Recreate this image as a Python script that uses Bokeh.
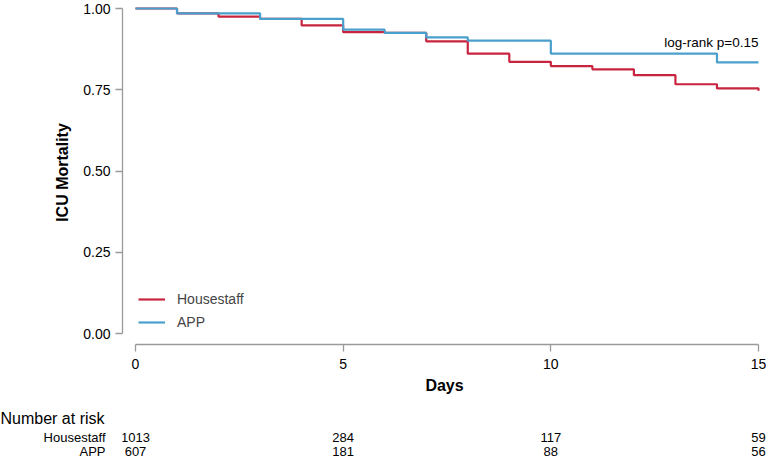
from bokeh.plotting import figure
from bokeh.models import Range1d, FixedTicker, Legend, LegendItem, Title
from bokeh.layouts import column
from bokeh.embed import file_html
from bokeh.resources import INLINE
from bokeh.core.properties import value

# ---- data ----
days_hs = [0, 1, 2, 3, 4, 5, 6, 7, 8, 9, 10, 11, 12, 13, 14, 15]
surv_hs = [1.000, 0.985, 0.975, 0.968, 0.948, 0.927, 0.925, 0.899, 0.861, 0.836, 0.823, 0.813, 0.795, 0.767, 0.754, 0.747]
days_app = [0, 1, 2, 3, 4, 5, 6, 7, 8, 9, 10, 11, 12, 13, 14, 15]
surv_app = [1.000, 0.985, 0.985, 0.968, 0.968, 0.935, 0.925, 0.911, 0.901, 0.901, 0.861, 0.861, 0.861, 0.861, 0.834, 0.834]
groups = ["Housestaff", "APP"]
colors = ["#C9243F", "#4A9FCC"]
x_ticks = [0, 5, 10, 15]
y_ticks = [0, 0.25, 0.5, 0.75, 1.0]
risk_times = [0, 5, 10, 15]
risk_hs = [1013, 284, 117, 59]
risk_app = [607, 181, 88, 56]
pval_text = "log-rank p=0.15"

FONT = "Liberation Sans"
AX = "#9a9a9a"
W = 766
H_MAIN, H_RISK = 401, 57
FL, FB = 122, 344          # frame left / bottom (canvas px)
Y1, Y0 = 8, 333            # canvas y of 1.0 and 0.0
PXD = (758 - 135) / 15.0   # px per day
PXY = Y0 - Y1              # px per unit of y

x_range = Range1d(-(135 - FL) / PXD, 15 + (W - 758) / PXD)
y_range = Range1d(-(FB - Y0) / PXY, 1 + Y1 / PXY)

p = figure(width=W, height=H_MAIN, output_backend="svg", toolbar_location=None,
           x_range=x_range, y_range=y_range,
           min_border_left=FL, min_border_right=0, min_border_top=0,
           min_border_bottom=H_MAIN - FB)
p.outline_line_color = None
p.grid.grid_line_color = None

r1 = p.step(days_hs, surv_hs, mode="after", line_color=colors[0], line_width=2.2)
r2 = p.step(days_app, surv_app, mode="after", line_color=colors[1], line_width=2.2)

p.text(x=[15], y=[0.896], text=[pval_text], text_align="right", text_baseline="middle",
       text_font=value(FONT), text_font_size="13.5px", text_color="black")

for ax in (p.xaxis[0], p.yaxis[0]):
    ax.axis_line_color = AX
    ax.axis_line_width = 1.3
    ax.major_tick_line_color = AX
    ax.major_tick_line_width = 1.3
    ax.major_tick_out = 7
    ax.major_tick_in = 0
    ax.minor_tick_line_color = None
    ax.major_label_text_font = FONT
    ax.major_label_text_font_size = "14px"
    ax.major_label_text_color = "black"
    ax.axis_label_text_font = FONT
    ax.axis_label_text_font_size = "16px"
    ax.axis_label_text_font_style = "bold"
    ax.axis_label_text_color = "black"

p.xaxis.ticker = FixedTicker(ticks=x_ticks)
p.xaxis.bounds = (0, 15)
p.xaxis.major_label_standoff = 7
p.xaxis.axis_label = "Days"
p.xaxis.axis_label_standoff = 5

p.yaxis.ticker = FixedTicker(ticks=y_ticks)
p.yaxis.bounds = (0, 1)
p.yaxis.major_label_overrides = {t: f"{t:.2f}" for t in y_ticks}
p.yaxis.major_label_standoff = 5
p.yaxis.axis_label = "ICU Mortality"
p.yaxis.axis_label_standoff = 9

legend = Legend(items=[LegendItem(label=groups[0], renderers=[r1]),
                       LegendItem(label=groups[1], renderers=[r2])],
                location=(11, 7), padding=5, spacing=3, glyph_width=27, glyph_height=20,
                label_standoff=12, border_line_alpha=0, background_fill_alpha=0,
                label_text_font=FONT, label_text_font_size="14px")
p.add_layout(legend)

# ---- risk table ----
TOP = 25                                  # frame top inside the risk figure
FH = H_RISK - TOP
row_y = [437 - H_MAIN - TOP, 451 - H_MAIN - TOP]

rt = figure(width=W, height=H_RISK, output_backend="svg", toolbar_location=None,
            x_range=x_range, y_range=Range1d(FH, 0),
            min_border_left=FL, min_border_right=0, min_border_top=TOP, min_border_bottom=0)
rt.outline_line_color = None
rt.grid.grid_line_color = None
rt.xaxis.visible = False
rt.add_layout(Title(text="Number at risk", align="left", offset=-FL, standoff=0,
                    text_font=FONT, text_font_size="16px", text_font_style="normal",
                    text_color="black"), "above")
ya = rt.yaxis[0]
ya.ticker = FixedTicker(ticks=row_y)
ya.major_label_overrides = {row_y[0]: groups[0], row_y[1]: groups[1]}
ya.axis_line_color = None
ya.major_tick_line_color = None
ya.minor_tick_line_color = None
ya.major_label_standoff = FL - 108 - 3
ya.major_label_text_font = FONT
ya.major_label_text_font_size = "13px"
ya.major_label_text_color = "black"

rt.text(x=risk_times, y=[row_y[0]] * len(risk_times), text=[str(v) for v in risk_hs],
        text_align="center", text_baseline="middle",
        text_font=value(FONT), text_font_size="13px", text_color="black")
rt.text(x=risk_times, y=[row_y[1]] * len(risk_times), text=[str(v) for v in risk_app],
        text_align="center", text_baseline="middle",
        text_font=value(FONT), text_font_size="13px", text_color="black")

layout = column(p, rt, spacing=0)
open("out.html", "w").write(file_html(layout, INLINE))
